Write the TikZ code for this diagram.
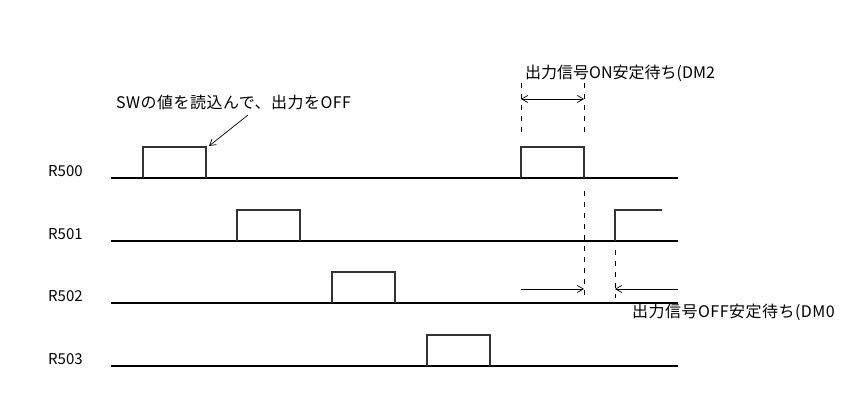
\documentclass[tikz,border=0pt]{standalone}
\usepackage{fontspec}
\setmainfont{Noto Sans CJK JP}
\newfontfamily\spacedcjk[LetterSpace=3]{Noto Sans CJK JP}
\usetikzlibrary{arrows.meta}
\begin{document}
\begin{tikzpicture}[x=1pt,y=-1pt,
  base/.style={line width=1.2pt},
  sig/.style={line width=1.1pt, black!80},
  dimline/.style={line width=0.8pt, dash pattern=on 5pt off 6pt},
  dimarrow/.style={line width=0.7pt},
  barb/.tip={Straight Barb[length=6pt,width=7pt,line width=0.7pt]},
  lbl/.style={font=\fontsize{15}{15}\selectfont, inner sep=0pt, anchor=west},
  note/.style={font=\fontsize{16}{16}\selectfont, inner sep=0pt, anchor=west},
  snote/.style={font=\spacedcjk\fontsize{16}{16}\selectfont, inner sep=0pt, anchor=west}]
\useasboundingbox (0,0) rectangle (851,417);
\fill[white] (0,0) rectangle (851,417);
% labels
\node[lbl] (r500) at (48,171) {R500};
\node[lbl] (r501) at (48,234) {R501};
\node[lbl] (r502) at (48,296) {R502};
\node[lbl] (r503) at (48,359) {R503};
% baselines
\draw[base] (111,178) -- (678,178);
\draw[base] (111,241) -- (678,241);
\draw[base] (111,303) -- (678,303);
\draw[base] (111,366) -- (678,366);
% pulses
\draw[sig] (143,178) -- (143,147) -- (206,147) -- (206,178);
\draw[sig] (521,178) -- (521,147) -- (584,147) -- (584,178);
\draw[sig] (237,241) -- (237,210) -- (300,210) -- (300,241);
\draw[sig] (615,241) -- (615,210) -- (662,210);
\draw[sig] (332,303) -- (332,272) -- (395,272) -- (395,303);
\draw[sig] (427,366) -- (427,335) -- (490,335) -- (490,366);
% dimension coordinates
\coordinate (onL) at (521,99);
\coordinate (onR) at (584,99);
\coordinate (offA) at (521,289);
\coordinate (offB) at (584,289);
\coordinate (offC) at (678,289);
\coordinate (offD) at (615,289);
% dashed extension lines
\draw[dimline] (521,83) -- (521,133);
\draw[dimline] (584,83) -- (584,133);
\draw[dimline] (584,191) -- (584,298);
\draw[dimline] (615,250) -- (615,298);
% dimension arrows
\draw[dimarrow, barb-barb] (onL) -- (onR);
\draw[dimarrow, -barb] (offA) -- (offB);
\draw[dimarrow, -barb] (offC) -- (offD);
% texts
\node[note] (ton) at (525,73) {出力信号ON安定待ち(DM2};
\node[snote] (toff) at (632,312) {出力信号OFF安定待ち(DM0};
\node[snote] (tsw) at (116,102) {SWの値を読込んで、出力をOFF};
\coordinate (swA) at (248,115);
\coordinate (swB) at (209,146);
\draw[dimarrow, -barb] (swA) -- (swB);
\end{tikzpicture}
\end{document}
